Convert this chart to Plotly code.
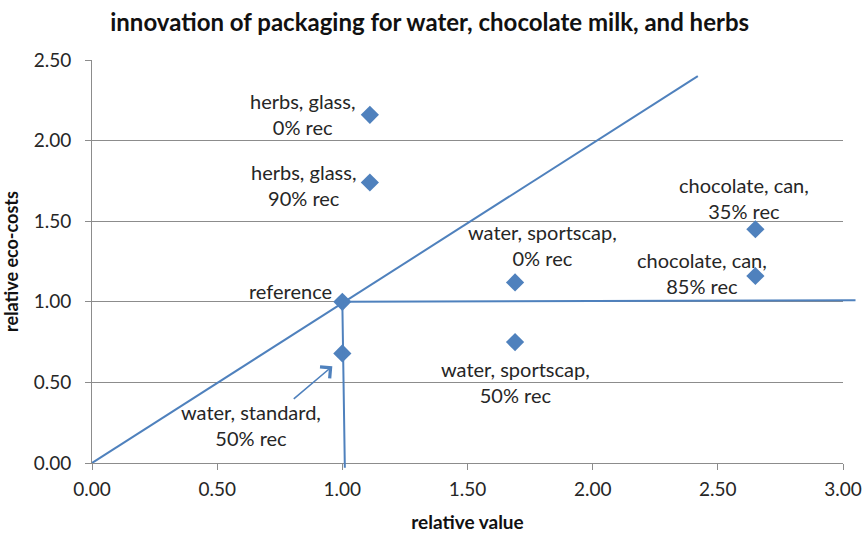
import plotly.graph_objects as go

# Packaging variants: relative value (x) vs relative eco-costs (y)
labels = [
    "reference",
    "water, standard,<br>50% rec",
    "herbs, glass,<br>0% rec",
    "herbs, glass,<br>90% rec",
    "water, sportscap,<br>0% rec",
    "water, sportscap,<br>50% rec",
    "chocolate, can,<br>35% rec",
    "chocolate, can,<br>85% rec",
]
rel_value = [1.00, 1.00, 1.11, 1.11, 1.69, 1.69, 2.65, 2.65]
rel_eco_costs = [1.00, 0.68, 2.16, 1.74, 1.12, 0.75, 1.45, 1.16]

# Label offsets in pixels (dx, dy) relative to each marker
label_offsets = [(-52, 11), (-91, -72), (-67, 1), (-66, -2),
                 (27, 37), (0, -40), (-11, 31), (-53, 3)]

# Guide lines through the reference point
diag_x = [0.0, 2.42]
diag_y = [0.0, 2.40]
vert_line = ((1.00, 1.00), (1.01, -0.03))
horiz_line = ((1.00, 1.00), (3.05, 1.01))
pointer = ((0.80, 0.39), (0.96, 0.60))

x_ticks = [0, 0.5, 1.0, 1.5, 2.0, 2.5, 3.0]
y_ticks = [0, 0.5, 1.0, 1.5, 2.0, 2.5]

BLUE = "#4F81BD"
GRID = "#8C8C8C"
TEXT = "#262626"
FONT = "Lato"

fig = go.Figure()

fig.add_trace(go.Scatter(
    x=diag_x, y=diag_y, mode="lines",
    line=dict(color=BLUE, width=2), hoverinfo="skip", showlegend=False,
))

fig.add_trace(go.Scatter(
    x=rel_value, y=rel_eco_costs, mode="markers",
    marker=dict(symbol="diamond", size=14, color=BLUE),
    showlegend=False, cliponaxis=False,
))

annotations = []
# straight guide lines drawn as headless arrows so they may run past the axes
for (x0, y0), (x1, y1) in (vert_line, horiz_line):
    annotations.append(dict(
        x=x1, y=y1, ax=x0, ay=y0, xref="x", yref="y", axref="x", ayref="y",
        text="", showarrow=True, arrowhead=0, arrowwidth=2, arrowcolor=BLUE,
        standoff=0, startstandoff=0,
    ))
(tx, ty), (hx, hy) = pointer
annotations.append(dict(
    x=hx, y=hy, ax=tx, ay=ty, xref="x", yref="y", axref="x", ayref="y",
    text="", showarrow=True, arrowhead=4, arrowsize=1.8, arrowwidth=1.6,
    arrowcolor=BLUE, standoff=0,
))

for lab, xv, yv, (dx, dy) in zip(labels, rel_value, rel_eco_costs, label_offsets):
    annotations.append(dict(
        x=xv, y=yv, xref="x", yref="y", text=lab, showarrow=False,
        xshift=dx, yshift=dy, align="center",
        font=dict(family=FONT, size=20, color=TEXT),
    ))

fig.update_layout(
    width=868, height=534,
    margin=dict(l=92, r=25, t=60, b=71),
    paper_bgcolor="white", plot_bgcolor="white",
    title=dict(
        text="<b>innovation of packaging for water, chocolate milk, and herbs</b>",
        x=0.495, xanchor="center", y=0.958, yanchor="middle",
        font=dict(family=FONT, size=24, color="#111111"),
    ),
    annotations=annotations,
    xaxis=dict(
        range=[0, 3.0], tickvals=x_ticks, tickformat=".2f", automargin=False,
        showgrid=False, zeroline=False,
        showline=True, linecolor=GRID, linewidth=1,
        ticks="outside", ticklen=6, tickcolor=GRID, ticklabelstandoff=3,
        tickfont=dict(family=FONT, size=19, color=TEXT),
        title=dict(text="<b>relative value</b>", standoff=16,
                   font=dict(family=FONT, size=19, color="#111111")),
    ),
    yaxis=dict(
        range=[0, 2.5], tickvals=y_ticks, tickformat=".2f", automargin=False,
        showgrid=True, gridcolor=GRID, gridwidth=1, zeroline=False,
        showline=True, linecolor=GRID, linewidth=1,
        ticks="outside", ticklen=6, tickcolor=GRID, ticklabelstandoff=10,
        tickfont=dict(family=FONT, size=19, color=TEXT),
        title=dict(text="<b>relative eco-costs</b>", standoff=10,
                   font=dict(family=FONT, size=18, color="#111111")),
    ),
)

fig.write_html("out.html")
